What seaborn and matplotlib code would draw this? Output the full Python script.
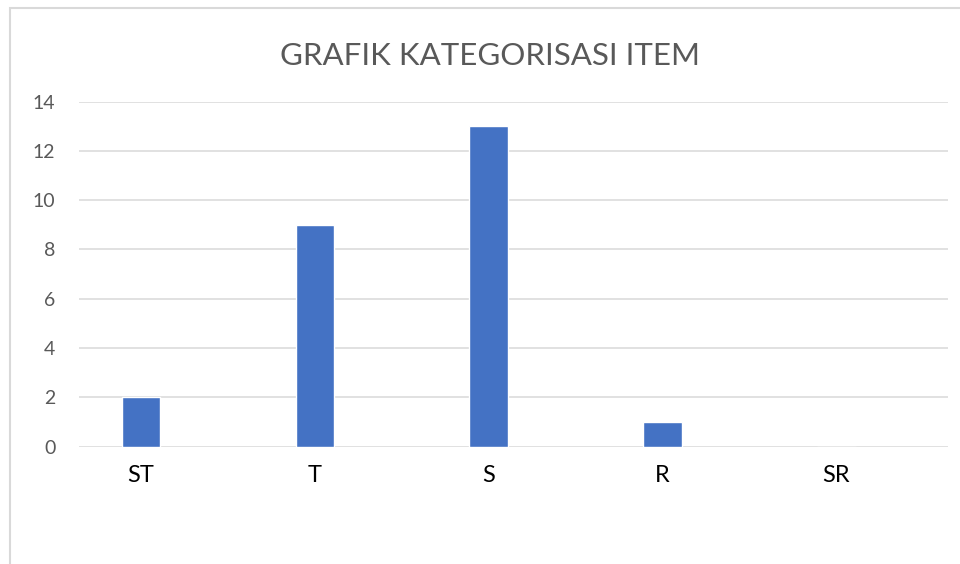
import pandas as pd
import numpy as np
import seaborn as sns
import matplotlib.pyplot as plt
from matplotlib.patches import Rectangle

# data
kategori = ['ST', 'T', 'S', 'R', 'SR']
jumlah = [2, 9, 13, 1, 0]
yticks = [0, 2, 4, 6, 8, 10, 12, 14]

df = pd.DataFrame({'kategori': kategori, 'jumlah': jumlah})

sns.set_style('white')
plt.rcParams['font.family'] = ['Lato', 'DejaVu Sans']

fig = plt.figure(figsize=(9.6, 5.64), dpi=100)
ax = fig.add_axes([79/960, 117.5/564, 869/960, 344.8/564])

sns.barplot(data=df, x='kategori', y='jumlah', color='#4472C4',
            width=0.222, saturation=1, ax=ax, zorder=3)

ax.set_xlim(-0.357, 4.643)
ax.set_ylim(0, 14)
ax.set_yticks(yticks)
ax.yaxis.grid(True, color='#D9D9D9', linewidth=1.1, zorder=0)
ax.set_axisbelow(True)
for s in ax.spines.values():
    s.set_visible(False)
ax.tick_params(axis='y', length=0, pad=17, labelsize=14, labelcolor='#595959')
ax.tick_params(axis='x', length=0, pad=13, labelsize=17, labelcolor='black')
ax.set_xlabel('')
ax.set_ylabel('')

fig.text(0.51, 1 - 56/564, 'GRAFIK KATEGORISASI ITEM', ha='center', va='center',
         fontsize=22.5, color='#595959')

# outer chart border (only left/top visible in the crop)
fig.patches.append(Rectangle((9.5/960, -0.1), 2, 1.1 - 8.5/564, transform=fig.transFigure,
                             fill=False, edgecolor='#D9D9D9', linewidth=1.5))

fig.savefig('out.png', dpi=100)
